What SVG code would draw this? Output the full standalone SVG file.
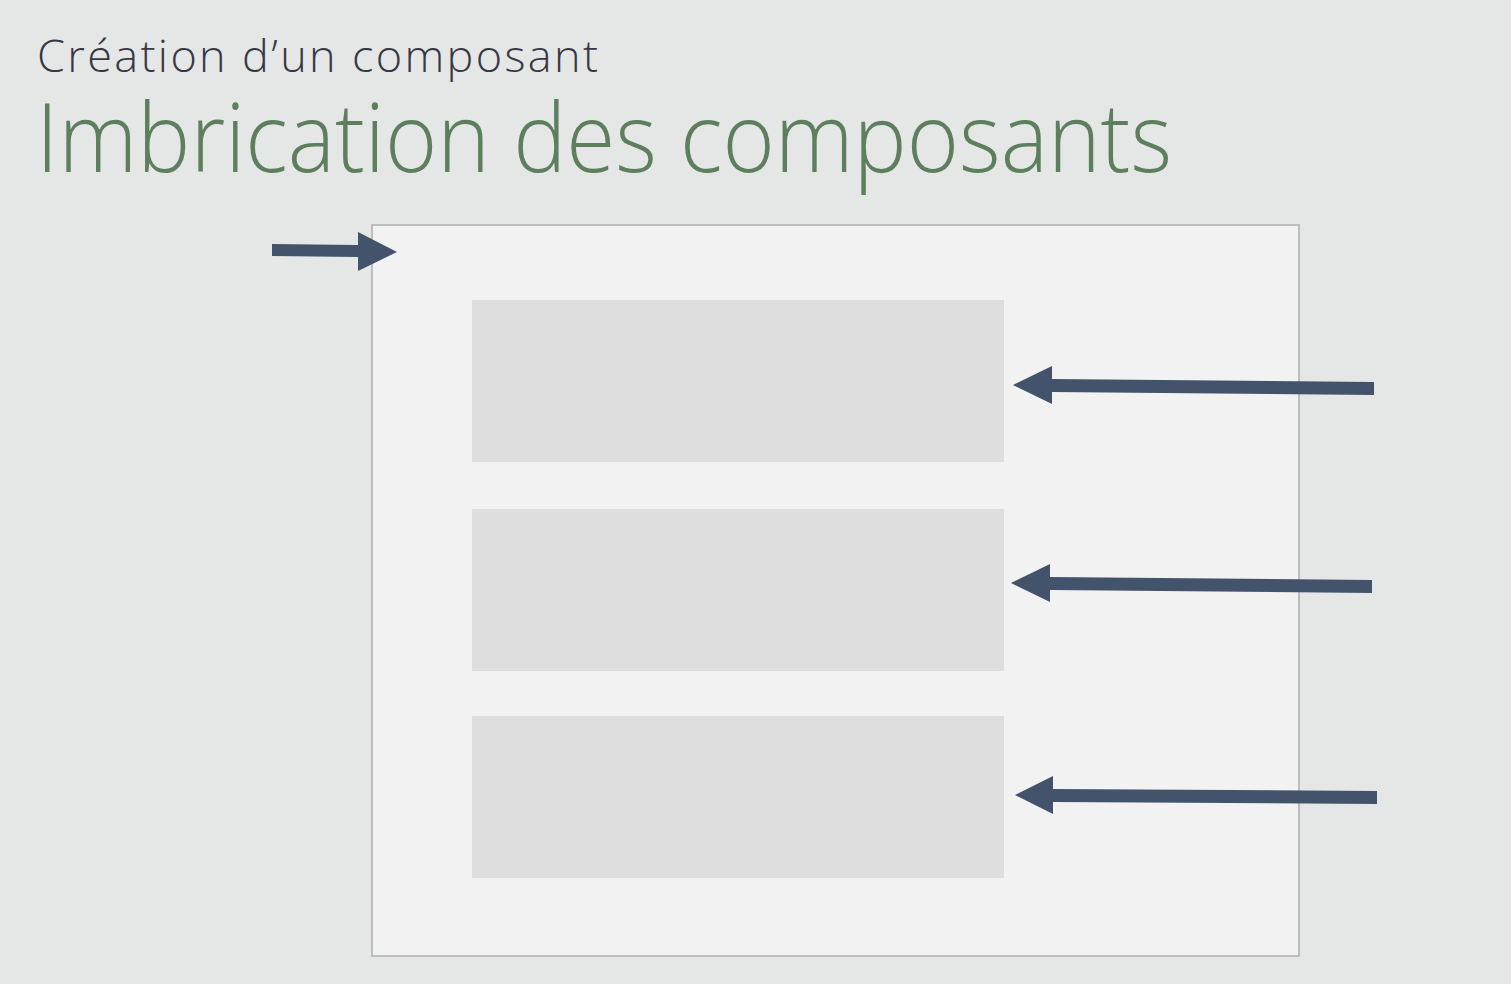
<svg xmlns="http://www.w3.org/2000/svg" width="1511" height="984" viewBox="0 0 1511 984">
<style>
.sub{font-family:"Open Sans","Liberation Sans",sans-serif;font-weight:300;font-size:45px;fill:#383844}
.title{font-family:"Open Sans","Liberation Sans",sans-serif;font-weight:300;font-size:96px;fill:#5e7f5e}
.inner{fill:#dedede}
.arrow{fill:#43536b}
</style>
<rect width="1511" height="984" fill="#e5e7e6"/>
<text class="sub" x="37" y="72" textLength="561" lengthAdjust="spacing">Création d’un composant</text>
<text class="title" x="36" y="172" textLength="1136" lengthAdjust="spacingAndGlyphs">Imbrication des composants</text>
<g id="container">
<rect x="372" y="225" width="927" height="731" fill="#f2f2f2" stroke="#bdbdbd" stroke-width="2"/>
</g>
<g id="child1"><rect class="inner" x="472" y="300" width="532" height="162"/></g>
<g id="child2"><rect class="inner" x="472" y="509" width="532" height="162"/></g>
<g id="child3"><rect class="inner" x="472" y="716" width="532" height="162"/></g>
<g id="connectors">
<polygon class="arrow" points="272,244 358,245 358,232 397,252 358,271 358,257 272,256"/>
<polygon class="arrow" points="1013,385 1052,366 1052,379 1374,382 1374,395 1052,392 1052,404"/>
<polygon class="arrow" points="1011,583 1050,564 1050,577 1372,580 1372,593 1050,590 1050,602"/>
<polygon class="arrow" points="1015,795 1053,776 1053,789 1377,791 1377,804 1053,802 1053,814"/>
</g>
</svg>
